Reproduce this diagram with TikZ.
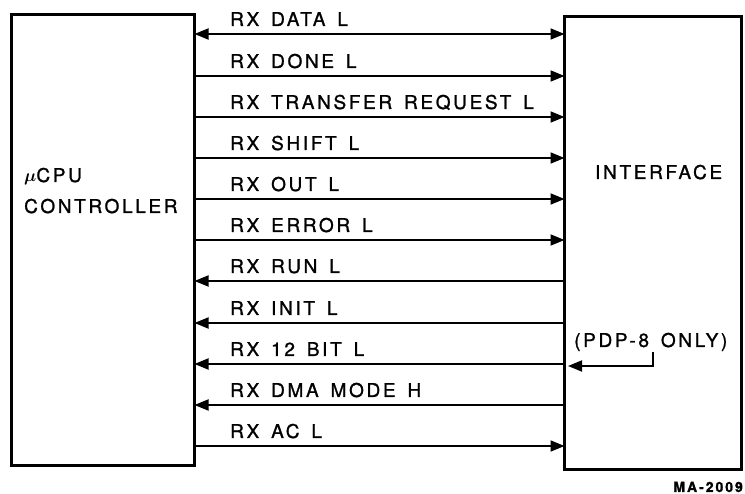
\documentclass[tikz,border=0pt]{standalone}
\usepackage{bm}
\usepackage{fontspec}
\setmainfont{TeX Gyre Heros}[LetterSpace=14,WordSpace=1.5,FakeBold=1.2]
\usetikzlibrary{arrows.meta}
\begin{document}
\begin{tikzpicture}[x=1pt,y=-1pt,
  box/.style={draw, line width=3.2pt, outer sep=0pt, inner sep=0pt},
  sig/.style={line width=1.8pt},
  tipr/.style={-{Triangle[length=14pt,width=11pt]}},
  tipl/.style={{Triangle[length=14pt,width=11pt]}-},
  tipb/.style={{Triangle[length=14pt,width=11pt]}-{Triangle[length=14pt,width=11pt]}},
  lab/.style={anchor=base west, inner sep=0pt, font=\fontsize{19}{21}\selectfont},
  boxlab/.style={anchor=base west, inner sep=0pt, font=\fontsize{19}{21}\selectfont}]
\useasboundingbox (0,0) rectangle (745,494);
% boxes
\node[box, minimum width=183pt, minimum height=451pt] (L) at (103,240) {};
\node[box, minimum width=177pt, minimum height=453pt] (R) at (653,243) {};
% box texts
\node[boxlab] (mu) at (24,182) {$\bm{\mu}$CPU};
\node[boxlab] (ctl) at (24,213) {CONTROLLER};
\node[boxlab] (ifc) at (595,179) {INTERFACE};
\node[boxlab] (pdp) at (574,347) {(PDP-8 ONLY)};
\node[anchor=base east, inner sep=0pt, font=\fontsize{14}{15}\selectfont\bfseries] (ma) at (743,492) {MA-2009};
% signals
\foreach \y/\t/\s [count=\i] in {
  34/RX DATA L/tipb,
  76/RX DONE L/tipr,
  117/RX TRANSFER REQUEST L/tipr,
  158/RX SHIFT L/tipr,
  199/RX OUT L/tipr,
  240/RX ERROR L/tipr,
  281/RX RUN L/tipl,
  323/RX INIT L/tipl,
  364/RX 12 BIT L/tipl,
  405/RX DMA MODE H/tipl,
  446/RX AC L/tipr}{
  \node[lab] (s\i) at (230,\y-8) {\t};
  \draw[sig,\s] (L.east |- 0,\y) -- (R.west |- 0,\y);
}
% PDP-8 only arrow
\coordinate (pa) at (653,352);
\coordinate (pb) at (568,366);
\draw[sig, -{Triangle[length=14pt,width=11pt]}] (pa) |- (pb);
\end{tikzpicture}
\end{document}
